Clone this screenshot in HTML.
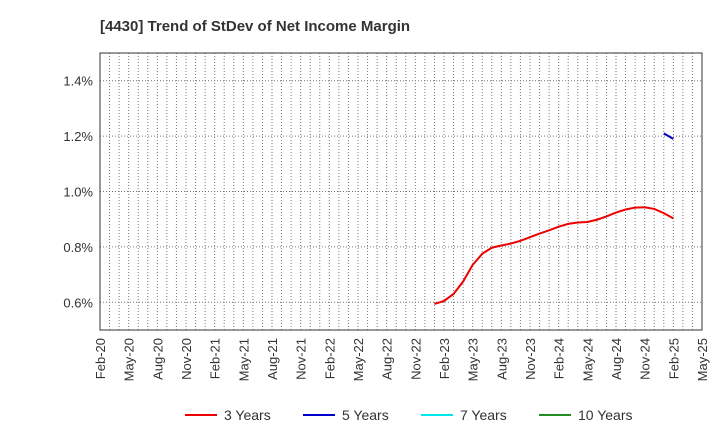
<!DOCTYPE html>
<html><head><meta charset="utf-8"><style>
body{margin:0;background:#fff;font-family:"Liberation Sans",sans-serif;}
</style></head><body>
<svg id="c" width="720" height="440" xmlns="http://www.w3.org/2000/svg">
<text x="100" y="31" font-size="15" font-weight="bold" fill="#333">[4430]  Trend of StDev of Net Income Margin</text>
<g id="grid"></g><g id="axes"></g><g id="series"></g><g id="legend"></g>
</svg>
<script>
const xLabels=["Feb-20","May-20","Aug-20","Nov-20","Feb-21","May-21","Aug-21","Nov-21","Feb-22","May-22","Aug-22","Nov-22","Feb-23","May-23","Aug-23","Nov-23","Feb-24","May-24","Aug-24","Nov-24","Feb-25","May-25"];
const yTicks=[0.6,0.8,1.0,1.2,1.4];
const start3=35; // month index (Jan-23) from Feb-20
const series3=[0.594,0.605,0.63,0.675,0.735,0.775,0.797,0.805,0.812,0.822,0.835,0.848,0.860,0.873,0.883,0.888,0.890,0.898,0.910,0.924,0.935,0.942,0.943,0.937,0.922,0.903];
const start5=59;
const series5=[1.21,1.19];
const NS="http://www.w3.org/2000/svg";
const L=100,R=702,T=53,B=330,yMin=0.5,yMax=1.5,nM=63;
const xs=m=>L+(R-L)*m/nM;
const ys=v=>B-(B-T)*(v-yMin)/(yMax-yMin);
function mk(tag,attrs,parent){const e=document.createElementNS(NS,tag);for(const k in attrs)e.setAttribute(k,attrs[k]);document.getElementById(parent).appendChild(e);return e;}
for(let m=1;m<nM;m++){const l=mk('line',{x1:xs(m),x2:xs(m),y1:T,y2:B,stroke:'#777','stroke-dasharray':'1,2','stroke-width':1},'grid');

}
yTicks.forEach(v=>{const l=mk('line',{x1:L,x2:R,y1:ys(v),y2:ys(v),stroke:'#777','stroke-dasharray':'1,2'},'grid');


const t=mk('text',{x:L-7,y:ys(v)+5,'text-anchor':'end','font-size':13,fill:'#333'},'axes');t.textContent=v.toFixed(1)+'%';

});
const fr=mk('rect',{x:L,y:T,width:R-L,height:B-T,fill:'none',stroke:'#333'},'axes');


xLabels.forEach((s,i)=>{const x=xs(i*3);const t=mk('text',{transform:`translate(${x+5},${B+8}) rotate(-90)`,'text-anchor':'end','font-size':13,fill:'#333'},'axes');t.textContent=s;

});
function line(arr,st,col,name){const p=mk('polyline',{points:arr.map((v,i)=>xs(st+i)+','+ys(v)).join(' '),fill:'none',stroke:col,'stroke-width':2},'series');

}
line(series3,start3,'#e00','series-3-years');
line(series5,start5,'#0000cc','series-5-years');
const leg=[["3 Years","#e00",185],["5 Years","#0000cc",303],["7 Years","#00e5ee",421],["10 Years","#228b22",539]];
leg.forEach(([n,c,x])=>{const l=mk('line',{x1:x,x2:x+32,y1:415,y2:415,stroke:c,'stroke-width':2},'legend');


const t=mk('text',{x:x+39,y:420,'font-size':14,fill:'#333'},'legend');t.textContent=n;

});
</script>
</body></html>
